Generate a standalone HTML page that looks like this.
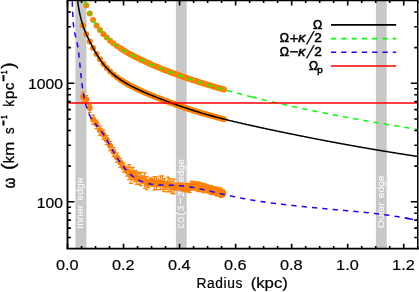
<!DOCTYPE html><html><head><meta charset="utf-8"><style>html,body{margin:0;padding:0;background:#fff;width:419px;height:292px;overflow:hidden}</style></head><body><svg width="419" height="292" viewBox="0 0 419 292" style="position:absolute;left:0;top:0;will-change:transform;font-family:'Liberation Sans',sans-serif">
<defs><clipPath id="c"><rect x="67.50" y="0" width="350.25" height="248.65"/></clipPath></defs>
<rect width="419" height="292" fill="#fff"/>
<rect x="75.4" y="0.4" width="11.05" height="248.25" fill="#c8c8c8"/>
<rect x="175.9" y="0.4" width="10.80" height="248.25" fill="#c8c8c8"/>
<rect x="375.9" y="0.4" width="10.80" height="248.25" fill="#c8c8c8"/>
<text transform="translate(83.23,228) rotate(-90)" font-size="8.8" fill="#fff" stroke="#fff" stroke-width="0.05"><tspan x="-0.7" textLength="23.9" lengthAdjust="spacingAndGlyphs">Inner</tspan><tspan> </tspan><tspan x="27.5" textLength="22.9" lengthAdjust="spacingAndGlyphs">edge</tspan></text>
<g transform="translate(183.60,228) rotate(-90)">
<text transform="translate(-0.14,-0.09) scale(0.679,0.960)" font-size="10.0" fill="#fff">C</text>
<text transform="translate(5.23,-0.09) scale(0.791,0.960)" font-size="10.0" fill="#fff">O</text>
<text transform="translate(12.55,0.13) scale(1.056,1.095)" font-size="10.0" fill="#fff">(</text>
<text transform="translate(17.35,-0.09) scale(0.907,0.960)" font-size="10.0" fill="#fff">3</text>
<text transform="translate(23.51,0.95) scale(1.194,1.262)" font-size="10.0" fill="#fff">−</text>
<text transform="translate(31.19,-0.10) scale(1.010,0.960)" font-size="10.0" fill="#fff">2</text>
<text transform="translate(37.94,0.13) scale(1.056,1.095)" font-size="10.0" fill="#fff">)</text>
<text font-size="8.8" fill="#fff" stroke="#fff" stroke-width="0.05" x="46.1" textLength="22.8" lengthAdjust="spacingAndGlyphs">edge</text>
</g>
<text transform="translate(383.60,228) rotate(-90)" font-size="8.8" fill="#fff" stroke="#fff" stroke-width="0.05"><tspan x="-0.3" textLength="26.0" lengthAdjust="spacingAndGlyphs">Outer</tspan><tspan> </tspan><tspan x="29.7" textLength="22.9" lengthAdjust="spacingAndGlyphs">edge</tspan></text>
<g clip-path="url(#c)">
<g fill="#ff8000"><circle cx="82.95" cy="25.48" r="3.0"/><circle cx="86.35" cy="34.22" r="3.0"/><circle cx="89.75" cy="41.43" r="3.0"/><circle cx="93.15" cy="48.04" r="3.0"/><circle cx="96.55" cy="54.04" r="3.0"/><circle cx="99.95" cy="59.36" r="3.0"/><circle cx="103.35" cy="64.02" r="3.0"/><circle cx="106.75" cy="68.06" r="3.0"/><circle cx="110.15" cy="71.54" r="3.0"/><circle cx="113.55" cy="74.57" r="3.0"/><circle cx="116.95" cy="77.25" r="3.0"/><circle cx="120.35" cy="79.66" r="3.0"/><circle cx="122.17" cy="80.85" r="3.0"/><circle cx="123.99" cy="81.99" r="3.0"/><circle cx="125.81" cy="83.08" r="3.0"/><circle cx="127.63" cy="84.13" r="3.0"/><circle cx="129.45" cy="85.14" r="3.0"/><circle cx="131.27" cy="86.11" r="3.0"/><circle cx="133.09" cy="87.05" r="3.0"/><circle cx="134.91" cy="87.96" r="3.0"/><circle cx="136.73" cy="88.84" r="3.0"/><circle cx="138.55" cy="89.71" r="3.0"/><circle cx="140.37" cy="90.55" r="3.0"/><circle cx="142.19" cy="91.37" r="3.0"/><circle cx="144.01" cy="92.17" r="3.0"/><circle cx="145.83" cy="92.96" r="3.0"/><circle cx="147.65" cy="93.73" r="3.0"/><circle cx="149.47" cy="94.49" r="3.0"/><circle cx="151.29" cy="95.24" r="3.0"/><circle cx="153.11" cy="95.98" r="3.0"/><circle cx="154.93" cy="96.70" r="3.0"/><circle cx="156.75" cy="97.42" r="3.0"/><circle cx="158.57" cy="98.13" r="3.0"/><circle cx="160.39" cy="98.83" r="3.0"/><circle cx="162.21" cy="99.53" r="3.0"/><circle cx="164.03" cy="100.21" r="3.0"/><circle cx="165.85" cy="100.90" r="3.0"/><circle cx="167.67" cy="101.57" r="3.0"/><circle cx="169.49" cy="102.24" r="3.0"/><circle cx="171.31" cy="102.91" r="3.0"/><circle cx="173.13" cy="103.57" r="3.0"/><circle cx="174.95" cy="104.23" r="3.0"/><circle cx="176.77" cy="104.88" r="3.0"/><circle cx="178.59" cy="105.52" r="3.0"/><circle cx="180.41" cy="106.16" r="3.0"/><circle cx="182.23" cy="106.78" r="3.0"/><circle cx="184.05" cy="107.41" r="3.0"/><circle cx="185.87" cy="108.02" r="3.0"/><circle cx="187.69" cy="108.63" r="3.0"/><circle cx="189.51" cy="109.23" r="3.0"/><circle cx="191.33" cy="109.82" r="3.0"/><circle cx="193.15" cy="110.41" r="3.0"/><circle cx="194.97" cy="110.99" r="3.0"/><circle cx="196.79" cy="111.56" r="3.0"/><circle cx="198.61" cy="112.12" r="3.0"/><circle cx="200.43" cy="112.67" r="3.0"/><circle cx="202.25" cy="113.21" r="3.0"/><circle cx="204.07" cy="113.75" r="3.0"/><circle cx="205.89" cy="114.28" r="3.0"/><circle cx="207.71" cy="114.80" r="3.0"/><circle cx="209.53" cy="115.31" r="3.0"/><circle cx="211.35" cy="115.81" r="3.0"/><circle cx="213.17" cy="116.31" r="3.0"/><circle cx="214.99" cy="116.80" r="3.0"/><circle cx="216.81" cy="117.28" r="3.0"/><circle cx="218.63" cy="117.76" r="3.0"/><circle cx="220.45" cy="118.23" r="3.0"/><circle cx="222.27" cy="118.69" r="3.0"/><circle cx="224.09" cy="119.15" r="3.0"/><circle cx="86.35" cy="5.32" r="3.0"/><circle cx="89.75" cy="13.39" r="3.0"/><circle cx="93.15" cy="19.93" r="3.0"/><circle cx="96.55" cy="25.39" r="3.0"/><circle cx="99.95" cy="30.03" r="3.0"/><circle cx="103.35" cy="34.04" r="3.0"/><circle cx="106.75" cy="37.55" r="3.0"/><circle cx="110.15" cy="40.66" r="3.0"/><circle cx="113.55" cy="43.45" r="3.0"/><circle cx="116.95" cy="45.98" r="3.0"/><circle cx="120.35" cy="48.30" r="3.0"/><circle cx="122.17" cy="49.48" r="3.0"/><circle cx="123.99" cy="50.60" r="3.0"/><circle cx="125.81" cy="51.70" r="3.0"/><circle cx="127.63" cy="52.75" r="3.0"/><circle cx="129.45" cy="53.78" r="3.0"/><circle cx="131.27" cy="54.77" r="3.0"/><circle cx="133.09" cy="55.74" r="3.0"/><circle cx="134.91" cy="56.68" r="3.0"/><circle cx="136.73" cy="57.61" r="3.0"/><circle cx="138.55" cy="58.51" r="3.0"/><circle cx="140.37" cy="59.40" r="3.0"/><circle cx="142.19" cy="60.26" r="3.0"/><circle cx="144.01" cy="61.11" r="3.0"/><circle cx="145.83" cy="61.95" r="3.0"/><circle cx="147.65" cy="62.77" r="3.0"/><circle cx="149.47" cy="63.58" r="3.0"/><circle cx="151.29" cy="64.38" r="3.0"/><circle cx="153.11" cy="65.17" r="3.0"/><circle cx="154.93" cy="65.95" r="3.0"/><circle cx="156.75" cy="66.71" r="3.0"/><circle cx="158.57" cy="67.47" r="3.0"/><circle cx="160.39" cy="68.21" r="3.0"/><circle cx="162.21" cy="68.94" r="3.0"/><circle cx="164.03" cy="69.67" r="3.0"/><circle cx="165.85" cy="70.38" r="3.0"/><circle cx="167.67" cy="71.09" r="3.0"/><circle cx="169.49" cy="71.79" r="3.0"/><circle cx="171.31" cy="72.48" r="3.0"/><circle cx="173.13" cy="73.16" r="3.0"/><circle cx="174.95" cy="73.83" r="3.0"/><circle cx="176.77" cy="74.49" r="3.0"/><circle cx="178.59" cy="75.15" r="3.0"/><circle cx="180.41" cy="75.80" r="3.0"/><circle cx="182.23" cy="76.44" r="3.0"/><circle cx="184.05" cy="77.08" r="3.0"/><circle cx="185.87" cy="77.71" r="3.0"/><circle cx="187.69" cy="78.33" r="3.0"/><circle cx="189.51" cy="78.94" r="3.0"/><circle cx="191.33" cy="79.55" r="3.0"/><circle cx="193.15" cy="80.16" r="3.0"/><circle cx="194.97" cy="80.75" r="3.0"/><circle cx="196.79" cy="81.34" r="3.0"/><circle cx="198.61" cy="81.93" r="3.0"/><circle cx="200.43" cy="82.51" r="3.0"/><circle cx="202.25" cy="83.08" r="3.0"/><circle cx="204.07" cy="83.65" r="3.0"/><circle cx="205.89" cy="84.21" r="3.0"/><circle cx="207.71" cy="84.77" r="3.0"/><circle cx="209.53" cy="85.32" r="3.0"/><circle cx="211.35" cy="85.87" r="3.0"/><circle cx="213.17" cy="86.41" r="3.0"/><circle cx="214.99" cy="86.95" r="3.0"/><circle cx="216.81" cy="87.48" r="3.0"/><circle cx="218.63" cy="88.01" r="3.0"/><circle cx="220.45" cy="88.54" r="3.0"/><circle cx="222.27" cy="89.06" r="3.0"/><circle cx="224.09" cy="89.57" r="3.0"/></g>
<g fill="#ff8000"><circle cx="82.95" cy="96.65" r="3.0"/><circle cx="86.35" cy="99.50" r="3.0"/><circle cx="89.75" cy="108.10" r="3.0"/><circle cx="93.15" cy="119.40" r="3.0"/><circle cx="96.55" cy="123.90" r="3.0"/><circle cx="99.95" cy="130.20" r="3.0"/><circle cx="103.35" cy="134.40" r="3.0"/><circle cx="106.75" cy="139.81" r="3.0"/><circle cx="110.15" cy="145.82" r="3.0"/><circle cx="113.55" cy="151.77" r="3.0"/><circle cx="116.95" cy="157.41" r="3.0"/><circle cx="120.35" cy="162.57" r="3.0"/><circle cx="123.75" cy="167.16" r="3.0"/><circle cx="127.15" cy="171.14" r="3.0"/><circle cx="129.10" cy="172.18" r="3.0"/><circle cx="131.05" cy="175.40" r="3.0"/><circle cx="133.00" cy="173.79" r="3.0"/><circle cx="134.95" cy="176.24" r="3.0"/><circle cx="136.90" cy="178.19" r="3.0"/><circle cx="138.85" cy="178.90" r="3.0"/><circle cx="140.80" cy="178.98" r="3.0"/><circle cx="142.75" cy="179.39" r="3.0"/><circle cx="144.70" cy="180.58" r="3.0"/><circle cx="146.65" cy="183.19" r="3.0"/><circle cx="148.60" cy="183.57" r="3.0"/><circle cx="150.55" cy="181.38" r="3.0"/><circle cx="152.50" cy="182.56" r="3.0"/><circle cx="154.45" cy="183.15" r="3.0"/><circle cx="156.40" cy="183.30" r="3.0"/><circle cx="158.35" cy="182.89" r="3.0"/><circle cx="160.30" cy="182.79" r="3.0"/><circle cx="162.25" cy="182.76" r="3.0"/><circle cx="164.20" cy="185.09" r="3.0"/><circle cx="166.15" cy="185.36" r="3.0"/><circle cx="168.10" cy="184.56" r="3.0"/><circle cx="170.05" cy="185.23" r="3.0"/><circle cx="172.00" cy="187.25" r="3.0"/><circle cx="173.95" cy="186.58" r="3.0"/><circle cx="175.90" cy="186.77" r="3.0"/><circle cx="177.85" cy="186.29" r="3.0"/><circle cx="179.80" cy="186.35" r="3.0"/><circle cx="181.75" cy="187.34" r="3.0"/><circle cx="183.70" cy="187.28" r="3.0"/><circle cx="185.65" cy="187.64" r="3.0"/><circle cx="187.60" cy="187.90" r="3.0"/><circle cx="189.55" cy="187.85" r="3.0"/><circle cx="191.50" cy="185.47" r="3.0"/><circle cx="193.45" cy="185.81" r="3.7"/><circle cx="195.40" cy="186.19" r="3.7"/><circle cx="197.35" cy="186.58" r="3.7"/><circle cx="199.30" cy="186.99" r="3.7"/><circle cx="201.25" cy="187.41" r="3.7"/><circle cx="203.20" cy="187.85" r="3.7"/><circle cx="205.15" cy="188.33" r="3.7"/><circle cx="207.10" cy="188.86" r="3.7"/><circle cx="209.05" cy="189.39" r="3.7"/><circle cx="211.00" cy="189.92" r="3.7"/><circle cx="212.95" cy="190.46" r="3.7"/><circle cx="214.90" cy="191.00" r="3.7"/><circle cx="216.85" cy="191.54" r="3.7"/><circle cx="218.80" cy="192.07" r="3.7"/><circle cx="220.75" cy="192.61" r="3.7"/><circle cx="222.70" cy="193.14" r="3.7"/></g>
<path d="M82.95,92.20V102.40M80.95,92.20h4M80.95,102.40h4M86.35,95.60V104.20M84.35,95.60h4M84.35,104.20h4M89.75,104.60V112.50M87.75,104.60h4M87.75,112.50h4M93.15,115.20V124.30M91.15,115.20h4M91.15,124.30h4M96.55,120.00V128.70M94.55,120.00h4M94.55,128.70h4M99.95,125.80V135.40M97.95,125.80h4M97.95,135.40h4M103.35,130.20V139.40M101.35,130.20h4M101.35,139.40h4M106.75,135.51V144.71M104.75,135.51h4M104.75,144.71h4M110.15,141.52V150.72M108.15,141.52h4M108.15,150.72h4M113.55,147.47V156.67M111.55,147.47h4M111.55,156.67h4M116.95,153.11V162.31M114.95,153.11h4M114.95,162.31h4M120.35,158.27V167.47M118.35,158.27h4M118.35,167.47h4M123.75,162.86V172.06M121.75,162.86h4M121.75,172.06h4M127.15,166.84V176.04M125.15,166.84h4M125.15,176.04h4M129.10,164.70V179.66M127.10,164.70h4M127.10,179.66h4M131.05,167.40V183.41M129.05,167.40h4M129.05,183.41h4M133.00,167.71V179.87M131.00,167.71h4M131.00,179.87h4M134.95,170.66V181.83M132.95,170.66h4M132.95,181.83h4M136.90,171.91V184.47M134.90,171.91h4M134.90,184.47h4M138.85,173.34V184.47M136.85,173.34h4M136.85,184.47h4M140.80,172.31V185.64M138.80,172.31h4M138.80,185.64h4M142.75,175.73V183.05M140.75,175.73h4M140.75,183.05h4M144.70,172.89V188.26M142.70,172.89h4M142.70,188.26h4M146.65,176.60V189.77M144.65,176.60h4M144.65,189.77h4M148.60,179.56V187.58M146.60,179.56h4M146.60,187.58h4M150.55,177.81V184.95M148.55,177.81h4M148.55,184.95h4M152.50,178.72V186.39M150.50,178.72h4M150.50,186.39h4M154.45,176.51V189.78M152.45,176.51h4M152.45,189.78h4M156.40,176.98V189.62M154.40,176.98h4M154.40,189.62h4M158.35,179.01V186.77M156.35,179.01h4M156.35,186.77h4M160.30,176.02V189.56M158.30,176.02h4M158.30,189.56h4M162.25,175.83V189.70M160.25,175.83h4M160.25,189.70h4M164.20,178.57V191.60M162.20,178.57h4M162.20,191.60h4M166.15,181.32V189.39M164.15,181.32h4M164.15,189.39h4M168.10,177.19V191.93M166.10,177.19h4M166.10,191.93h4M170.05,178.82V191.64M168.05,178.82h4M168.05,191.64h4M172.00,181.07V193.43M170.00,181.07h4M170.00,193.43h4M173.95,179.14V194.01M171.95,179.14h4M171.95,194.01h4M175.90,183.06V190.49M173.90,183.06h4M173.90,190.49h4M177.85,183.19V189.39M175.85,183.19h4M175.85,189.39h4M179.80,183.21V189.49M177.80,183.21h4M177.80,189.49h4M181.75,184.07V190.60M179.75,184.07h4M179.75,190.60h4M183.70,183.53V191.04M181.70,183.53h4M181.70,191.04h4M185.65,183.34V191.94M183.65,183.34h4M183.65,191.94h4M187.60,184.23V191.57M185.60,184.23h4M185.60,191.57h4M189.55,183.39V192.30M187.55,183.39h4M187.55,192.30h4M191.50,181.04V189.89M189.50,181.04h4M189.50,189.89h4M193.45,181.50V190.13M191.45,181.50h4M191.45,190.13h4M195.40,182.34V190.04M193.40,182.34h4M193.40,190.04h4M197.35,181.96V191.20M195.35,181.96h4M195.35,191.20h4M199.30,182.28V191.69M197.30,182.28h4M197.30,191.69h4M201.25,183.69V191.13M199.25,183.69h4M199.25,191.13h4M203.20,183.04V192.65M201.20,183.04h4M201.20,192.65h4M205.15,184.10V192.56M203.15,184.10h4M203.15,192.56h4M207.10,184.97V192.74M205.10,184.97h4M205.10,192.74h4M209.05,185.69V193.08M207.05,185.69h4M207.05,193.08h4M211.00,185.49V194.36M209.00,185.49h4M209.00,194.36h4M212.95,186.32V194.60M210.95,186.32h4M210.95,194.60h4M214.90,187.13V194.87M212.90,187.13h4M212.90,194.87h4M216.85,187.09V195.98M214.85,187.09h4M214.85,195.98h4M218.80,188.12V196.03M216.80,188.12h4M216.80,196.03h4M220.75,187.77V197.45M218.75,187.77h4M218.75,197.45h4M222.70,189.45V196.83M220.70,189.45h4M220.70,196.83h4" stroke="#ff8000" stroke-width="1.2" fill="none"/>
<path d="M76.00,-13.65 L76.86,-5.15 L77.71,1.68 L78.57,7.29 L79.43,11.98 L80.28,15.97 L81.14,19.43 L82.00,22.47 L82.85,25.19 L83.71,27.66 L84.57,29.93 L85.42,32.05 L86.28,34.05 L87.13,35.97 L87.99,37.81 L88.85,39.59 L89.70,41.34 L90.56,43.06 L91.42,44.74 L92.27,46.39 L93.13,48.01 L93.99,49.58 L94.84,51.11 L95.70,52.60 L96.56,54.05 L97.41,55.46 L98.27,56.82 L99.13,58.13 L99.98,59.41 L100.84,60.64 L101.70,61.84 L102.55,62.99 L103.41,64.10 L104.27,65.17 L105.12,66.20 L105.98,67.20 L106.83,68.16 L107.69,69.08 L108.55,69.97 L109.40,70.82 L110.26,71.65 L111.12,72.44 L111.97,73.22 L112.83,73.96 L113.69,74.68 L114.54,75.39 L115.40,76.07 L116.26,76.73 L117.11,77.37 L117.97,78.00 L118.83,78.61 L119.68,79.20 L120.54,79.78 L121.40,80.35 L122.25,80.90 L123.11,81.45 L123.96,81.98 L124.82,82.50 L125.68,83.00 L126.53,83.50 L127.39,83.99 L128.25,84.47 L129.10,84.95 L129.96,85.41 L130.82,85.87 L131.67,86.32 L132.53,86.76 L133.39,87.20 L134.24,87.63 L135.10,88.05 L135.96,88.47 L136.81,88.88 L137.67,89.29 L138.53,89.69 L139.38,90.09 L140.24,90.49 L141.10,90.88 L141.95,91.26 L142.81,91.64 L143.66,92.02 L144.52,92.39 L145.38,92.76 L146.23,93.13 L147.09,93.50 L147.95,93.86 L148.80,94.22 L149.66,94.57 L150.52,94.92 L151.37,95.27 L152.23,95.62 L153.09,95.97 L153.94,96.31 L154.80,96.65 L155.66,96.99 L156.51,97.33 L157.37,97.66 L158.23,98.00 L159.08,98.33 L159.94,98.66 L160.80,98.99 L161.65,99.31 L162.51,99.64 L163.36,99.96 L164.22,100.29 L165.08,100.61 L165.93,100.93 L166.79,101.25 L167.65,101.56 L168.50,101.88 L169.36,102.20 L170.22,102.51 L171.07,102.82 L171.93,103.14 L172.79,103.45 L173.64,103.76 L174.50,104.06 L175.36,104.37 L176.21,104.68 L177.07,104.98 L177.93,105.28 L178.78,105.59 L179.64,105.89 L180.49,106.18 L181.35,106.48 L182.21,106.78 L183.06,107.07 L183.92,107.36 L184.78,107.65 L185.63,107.94 L186.49,108.23 L187.35,108.52 L188.20,108.80 L189.06,109.08 L189.92,109.36 L190.77,109.64 L191.63,109.92 L192.49,110.20 L193.34,110.47 L194.20,110.74 L195.06,111.01 L195.91,111.28 L196.77,111.55 L197.63,111.81 L198.48,112.08 L199.34,112.34 L200.19,112.60 L201.05,112.86 L201.91,113.11 L202.76,113.37 L203.62,113.62 L204.48,113.87 L205.33,114.12 L206.19,114.36 L207.05,114.61 L207.90,114.85 L208.76,115.09 L209.62,115.33 L210.47,115.57 L211.33,115.81 L212.19,116.04 L213.04,116.28 L213.90,116.51 L214.76,116.74 L215.61,116.96 L216.47,117.19 L217.33,117.42 L218.18,117.64 L219.04,117.86 L219.89,118.09 L220.75,118.31 L221.61,118.53 L222.46,118.74 L223.32,118.96 L224.18,119.18 L225.03,119.39 L225.89,119.60 L226.75,119.81 L227.60,120.03 L228.46,120.24 L229.32,120.45 L230.17,120.65 L231.03,120.86 L231.89,121.07 L232.74,121.27 L233.60,121.48 L234.46,121.68 L235.31,121.88 L236.17,122.08 L237.03,122.29 L237.88,122.49 L238.74,122.69 L239.59,122.88 L240.45,123.08 L241.31,123.28 L242.16,123.48 L243.02,123.67 L243.88,123.87 L244.73,124.06 L245.59,124.26 L246.45,124.45 L247.30,124.64 L248.16,124.84 L249.02,125.03 L249.87,125.22 L250.73,125.41 L251.59,125.60 L252.44,125.79 L253.30,125.98 L254.16,126.17 L255.01,126.35 L255.87,126.54 L256.72,126.73 L257.58,126.92 L258.44,127.10 L259.29,127.29 L260.15,127.47 L261.01,127.66 L261.86,127.84 L262.72,128.03 L263.58,128.21 L264.43,128.39 L265.29,128.58 L266.15,128.76 L267.00,128.94 L267.86,129.12 L268.72,129.31 L269.57,129.49 L270.43,129.67 L271.29,129.85 L272.14,130.03 L273.00,130.21 L273.86,130.39 L274.71,130.57 L275.57,130.75 L276.42,130.93 L277.28,131.11 L278.14,131.29 L278.99,131.47 L279.85,131.64 L280.71,131.82 L281.56,132.00 L282.42,132.18 L283.28,132.35 L284.13,132.53 L284.99,132.71 L285.85,132.88 L286.70,133.06 L287.56,133.24 L288.42,133.41 L289.27,133.59 L290.13,133.76 L290.99,133.94 L291.84,134.11 L292.70,134.28 L293.56,134.46 L294.41,134.63 L295.27,134.81 L296.12,134.98 L296.98,135.15 L297.84,135.32 L298.69,135.50 L299.55,135.67 L300.41,135.84 L301.26,136.01 L302.12,136.18 L302.98,136.35 L303.83,136.52 L304.69,136.69 L305.55,136.86 L306.40,137.03 L307.26,137.20 L308.12,137.37 L308.97,137.54 L309.83,137.71 L310.69,137.88 L311.54,138.04 L312.40,138.21 L313.26,138.38 L314.11,138.54 L314.97,138.71 L315.82,138.88 L316.68,139.04 L317.54,139.21 L318.39,139.37 L319.25,139.54 L320.11,139.70 L320.96,139.87 L321.82,140.03 L322.68,140.20 L323.53,140.36 L324.39,140.52 L325.25,140.69 L326.10,140.85 L326.96,141.01 L327.82,141.17 L328.67,141.33 L329.53,141.49 L330.39,141.66 L331.24,141.82 L332.10,141.98 L332.95,142.14 L333.81,142.30 L334.67,142.46 L335.52,142.61 L336.38,142.77 L337.24,142.93 L338.09,143.09 L338.95,143.25 L339.81,143.40 L340.66,143.56 L341.52,143.72 L342.38,143.88 L343.23,144.03 L344.09,144.19 L344.95,144.34 L345.80,144.50 L346.66,144.65 L347.52,144.81 L348.37,144.96 L349.23,145.12 L350.09,145.27 L350.94,145.42 L351.80,145.58 L352.65,145.73 L353.51,145.88 L354.37,146.04 L355.22,146.19 L356.08,146.34 L356.94,146.49 L357.79,146.64 L358.65,146.79 L359.51,146.94 L360.36,147.09 L361.22,147.24 L362.08,147.39 L362.93,147.54 L363.79,147.69 L364.65,147.84 L365.50,147.99 L366.36,148.13 L367.22,148.28 L368.07,148.43 L368.93,148.58 L369.79,148.72 L370.64,148.87 L371.50,149.02 L372.35,149.16 L373.21,149.31 L374.07,149.45 L374.92,149.60 L375.78,149.74 L376.64,149.89 L377.49,150.03 L378.35,150.17 L379.21,150.32 L380.06,150.46 L380.92,150.60 L381.78,150.75 L382.63,150.89 L383.49,151.03 L384.35,151.17 L385.20,151.31 L386.06,151.46 L386.92,151.60 L387.77,151.74 L388.63,151.88 L389.48,152.02 L390.34,152.16 L391.20,152.30 L392.05,152.44 L392.91,152.57 L393.77,152.71 L394.62,152.85 L395.48,152.99 L396.34,153.13 L397.19,153.26 L398.05,153.40 L398.91,153.54 L399.76,153.68 L400.62,153.81 L401.48,153.95 L402.33,154.08 L403.19,154.22 L404.05,154.35 L404.90,154.49 L405.76,154.62 L406.62,154.76 L407.47,154.89 L408.33,155.03 L409.18,155.16 L410.04,155.29 L410.90,155.43 L411.75,155.56 L412.61,155.69 L413.47,155.82 L414.32,155.96 L415.18,156.09 L416.04,156.22 L416.89,156.35 L417.75,156.48" stroke="#000" stroke-width="1.5" fill="none"/>
<path d="M83.50,-3.13 L83.92,-1.76 L84.34,-0.43 L84.76,0.85 L85.19,2.09 L85.61,3.29 L86.03,4.46 L86.45,5.58 L86.87,6.68 L87.29,7.74 L87.72,8.78 L88.14,9.78 L88.56,10.76 L88.98,11.71 L89.40,12.64 L89.82,13.54 L90.24,14.42 L90.67,15.28 L91.09,16.12 L91.51,16.93 L91.93,17.73 L92.35,18.51 L92.77,19.27 L93.20,20.01 L93.62,20.74 L94.04,21.45 L94.46,22.15 L94.88,22.83 L95.30,23.49 L95.73,24.15 L96.15,24.79 L96.57,25.41 L96.99,26.03 L97.41,26.63 L97.83,27.22 L98.25,27.80 L98.68,28.37 L99.10,28.93 L99.52,29.48 L99.94,30.01 L100.36,30.54 L100.78,31.06 L101.21,31.57 L101.63,32.07 L102.05,32.57 L102.47,33.05 L102.89,33.53 L103.31,34.00 L103.73,34.46 L104.16,34.91 L104.58,35.36 L105.00,35.80 L105.42,36.23 L105.84,36.66 L106.26,37.08 L106.69,37.49 L107.11,37.90 L107.53,38.30 L107.95,38.69 L108.37,39.08 L108.79,39.47 L109.21,39.84 L109.64,40.22 L110.06,40.58 L110.48,40.95 L110.90,41.31 L111.32,41.66 L111.74,42.01 L112.17,42.35 L112.59,42.69 L113.01,43.03 L113.43,43.36 L113.85,43.69 L114.27,44.01 L114.69,44.33 L115.12,44.64 L115.54,44.96 L115.96,45.27 L116.38,45.57 L116.80,45.88 L117.22,46.17 L117.65,46.47 L118.07,46.76 L118.49,47.05 L118.91,47.34 L119.33,47.63 L119.75,47.91 L120.18,48.19 L120.60,48.46 L121.02,48.74 L121.44,49.01 L121.86,49.28 L122.28,49.55 L122.70,49.81 L123.13,50.07 L123.55,50.33 L123.97,50.59 L124.39,50.85 L124.81,51.10 L125.23,51.35 L125.66,51.60 L126.08,51.85 L126.50,52.10 L126.92,52.34 L127.34,52.59 L127.76,52.83 L128.18,53.07 L128.61,53.30 L129.03,53.54 L129.45,53.78 L129.87,54.01 L130.29,54.24 L130.71,54.47 L131.14,54.70 L131.56,54.93 L131.98,55.15 L132.40,55.38 L132.82,55.60 L133.24,55.82 L133.66,56.04 L134.09,56.26 L134.51,56.48 L134.93,56.70 L135.35,56.91 L135.77,57.13 L136.19,57.34 L136.62,57.55 L137.04,57.76 L137.46,57.97 L137.88,58.18 L138.30,58.39 L138.72,58.60 L139.15,58.80 L139.57,59.01 L139.99,59.21 L140.41,59.41 L140.83,59.62 L141.25,59.82 L141.67,60.02 L142.10,60.22 L142.52,60.42 L142.94,60.61 L143.36,60.81 L143.78,61.01 L144.20,61.20 L144.63,61.40 L145.05,61.59 L145.47,61.79 L145.89,61.98 L146.31,62.17 L146.73,62.36 L147.15,62.55 L147.58,62.74 L148.00,62.93 L148.42,63.12 L148.84,63.31 L149.26,63.49 L149.68,63.68 L150.11,63.86 L150.53,64.05 L150.95,64.23 L151.37,64.42 L151.79,64.60 L152.21,64.78 L152.63,64.97 L153.06,65.15 L153.48,65.33 L153.90,65.51 L154.32,65.69 L154.74,65.87 L155.16,66.04 L155.59,66.22 L156.01,66.40 L156.43,66.58 L156.85,66.75 L157.27,66.93 L157.69,67.10 L158.12,67.28 L158.54,67.45 L158.96,67.62 L159.38,67.80 L159.80,67.97 L160.22,68.14 L160.64,68.31 L161.07,68.48 L161.49,68.65 L161.91,68.82 L162.33,68.99 L162.75,69.16 L163.17,69.33 L163.60,69.50 L164.02,69.66 L164.44,69.83 L164.86,70.00 L165.28,70.16 L165.70,70.33 L166.12,70.49 L166.55,70.65 L166.97,70.82 L167.39,70.98 L167.81,71.14 L168.23,71.31 L168.65,71.47 L169.08,71.63 L169.50,71.79 L169.92,71.95 L170.34,72.11 L170.76,72.27 L171.18,72.43 L171.60,72.59 L172.03,72.74 L172.45,72.90 L172.87,73.06 L173.29,73.22 L173.71,73.37 L174.13,73.53 L174.56,73.68 L174.98,73.84 L175.40,73.99 L175.82,74.15 L176.24,74.30 L176.66,74.46 L177.08,74.61 L177.51,74.76 L177.93,74.91 L178.35,75.06 L178.77,75.22 L179.19,75.37 L179.61,75.52 L180.04,75.67 L180.46,75.82 L180.88,75.97 L181.30,76.12 L181.72,76.26 L182.14,76.41 L182.57,76.56 L182.99,76.71 L183.41,76.86 L183.83,77.00 L184.25,77.15 L184.67,77.29 L185.09,77.44 L185.52,77.59 L185.94,77.73 L186.36,77.88 L186.78,78.02 L187.20,78.16 L187.62,78.31 L188.05,78.45 L188.47,78.59 L188.89,78.74 L189.31,78.88 L189.73,79.02 L190.15,79.16 L190.57,79.30 L191.00,79.44 L191.42,79.58 L191.84,79.72 L192.26,79.86 L192.68,80.00 L193.10,80.14 L193.53,80.28 L193.95,80.42 L194.37,80.56 L194.79,80.69 L195.21,80.83 L195.63,80.97 L196.05,81.11 L196.48,81.24 L196.90,81.38 L197.32,81.51 L197.74,81.65 L198.16,81.79 L198.58,81.92 L199.01,82.05 L199.43,82.19 L199.85,82.32 L200.27,82.46 L200.69,82.59 L201.11,82.72 L201.54,82.86 L201.96,82.99 L202.38,83.12 L202.80,83.25 L203.22,83.39 L203.64,83.52 L204.06,83.65 L204.49,83.78 L204.91,83.91 L205.33,84.04 L205.75,84.17 L206.17,84.30 L206.59,84.43 L207.02,84.56 L207.44,84.69 L207.86,84.82 L208.28,84.94 L208.70,85.07 L209.12,85.20 L209.54,85.33 L209.97,85.45 L210.39,85.58 L210.81,85.71 L211.23,85.83 L211.65,85.96 L212.07,86.09 L212.50,86.21 L212.92,86.34 L213.34,86.46 L213.76,86.59 L214.18,86.71 L214.60,86.84 L215.02,86.96 L215.45,87.09 L215.87,87.21 L216.29,87.33 L216.71,87.46 L217.13,87.58 L217.55,87.70 L217.98,87.82 L218.40,87.95 L218.82,88.07 L219.24,88.19 L219.66,88.31 L220.08,88.43 L220.51,88.55 L220.93,88.67 L221.35,88.79 L221.77,88.92 L222.19,89.04 L222.61,89.16 L223.03,89.27 L223.46,89.39 L223.88,89.51 L224.30,89.63 L224.72,89.75 L225.14,89.87 L225.56,89.99 L225.99,90.11 L226.41,90.22 L226.83,90.34 L227.25,90.46 L227.67,90.58 L228.09,90.69 L228.51,90.81 L228.94,90.93 L229.36,91.04 L229.78,91.16 L230.20,91.27 L230.62,91.39 L231.04,91.50 L231.47,91.62 L231.89,91.73 L232.31,91.85 L232.73,91.96 L233.15,92.08 L233.57,92.19 L233.99,92.31 L234.42,92.42 L234.84,92.53 L235.26,92.65 L235.68,92.76 L236.10,92.87 L236.52,92.99 L236.95,93.10 L237.37,93.21 L237.79,93.32 L238.21,93.43 L238.63,93.55 L239.05,93.66 L239.47,93.77 L239.90,93.88 L240.32,93.99 L240.74,94.10 L241.16,94.21 L241.58,94.32 L242.00,94.43 L242.43,94.54 L242.85,94.65 L243.27,94.76 L243.69,94.87 L244.11,94.98 L244.53,95.09 L244.96,95.20 L245.38,95.31 L245.80,95.42 L246.22,95.52 L246.64,95.63 L247.06,95.74 L247.48,95.85 L247.91,95.96 L248.33,96.06 L248.75,96.17 L249.17,96.28 L249.59,96.38 L250.01,96.49 L250.44,96.60 L250.86,96.70 L251.28,96.81 L251.70,96.92" stroke="#00ff00" stroke-width="1.5" fill="none" stroke-dasharray="5.2 5.1" stroke-dashoffset="-4.79"/>
<path d="M251.70,96.92 L252.12,97.02 L252.53,97.12 L252.95,97.23 L253.36,97.33 L253.78,97.44 L254.20,97.54 L254.61,97.64 L255.03,97.75 L255.45,97.85 L255.86,97.95 L256.28,98.05 L256.69,98.16 L257.11,98.26 L257.53,98.36 L257.94,98.46 L258.36,98.57 L258.77,98.67 L259.19,98.77 L259.61,98.87 L260.02,98.97 L260.44,99.07 L260.86,99.17 L261.27,99.28 L261.69,99.38 L262.10,99.48 L262.52,99.58 L262.94,99.68 L263.35,99.78 L263.77,99.88 L264.18,99.98 L264.60,100.08 L265.02,100.18 L265.43,100.28 L265.85,100.37 L266.27,100.47 L266.68,100.57 L267.10,100.67 L267.51,100.77 L267.93,100.87 L268.35,100.97 L268.76,101.06 L269.18,101.16 L269.60,101.26 L270.01,101.36 L270.43,101.46 L270.84,101.55 L271.26,101.65 L271.68,101.75 L272.09,101.84 L272.51,101.94 L272.92,102.04 L273.34,102.13 L273.76,102.23 L274.17,102.33 L274.59,102.42 L275.01,102.52 L275.42,102.61 L275.84,102.71 L276.25,102.81 L276.67,102.90 L277.09,103.00 L277.50,103.09 L277.92,103.19 L278.33,103.28 L278.75,103.38 L279.17,103.47 L279.58,103.57 L280.00,103.66 L280.42,103.75 L280.83,103.85 L281.25,103.94 L281.66,104.04 L282.08,104.13 L282.50,104.22 L282.91,104.32 L283.33,104.41 L283.74,104.50 L284.16,104.60 L284.58,104.69 L284.99,104.78 L285.41,104.87 L285.83,104.97 L286.24,105.06 L286.66,105.15 L287.07,105.24 L287.49,105.33 L287.91,105.43 L288.32,105.52 L288.74,105.61 L289.15,105.70 L289.57,105.79 L289.99,105.88 L290.40,105.98 L290.82,106.07 L291.24,106.16 L291.65,106.25 L292.07,106.34 L292.48,106.43 L292.90,106.52 L293.32,106.61 L293.73,106.70 L294.15,106.79 L294.57,106.88 L294.98,106.97 L295.40,107.06 L295.81,107.15 L296.23,107.24 L296.65,107.33 L297.06,107.42 L297.48,107.51 L297.89,107.59 L298.31,107.68 L298.73,107.77 L299.14,107.86 L299.56,107.95 L299.98,108.04 L300.39,108.13 L300.81,108.21 L301.22,108.30 L301.64,108.39 L302.06,108.48 L302.47,108.56 L302.89,108.65 L303.30,108.74 L303.72,108.83 L304.14,108.91 L304.55,109.00 L304.97,109.09 L305.39,109.18 L305.80,109.26 L306.22,109.35 L306.63,109.44 L307.05,109.52 L307.47,109.61 L307.88,109.69 L308.30,109.78 L308.71,109.87 L309.13,109.95 L309.55,110.04 L309.96,110.12 L310.38,110.21 L310.80,110.29 L311.21,110.38 L311.63,110.47 L312.04,110.55 L312.46,110.64 L312.88,110.72 L313.29,110.81 L313.71,110.89 L314.12,110.97 L314.54,111.06 L314.96,111.14 L315.37,111.23 L315.79,111.31 L316.21,111.40 L316.62,111.48 L317.04,111.56 L317.45,111.65 L317.87,111.73 L318.29,111.82 L318.70,111.90 L319.12,111.98 L319.53,112.07 L319.95,112.15 L320.37,112.23 L320.78,112.31 L321.20,112.40 L321.62,112.48 L322.03,112.56 L322.45,112.65 L322.86,112.73 L323.28,112.81 L323.70,112.89 L324.11,112.97 L324.53,113.06 L324.95,113.14 L325.36,113.22 L325.78,113.30 L326.19,113.38 L326.61,113.47 L327.03,113.55 L327.44,113.63 L327.86,113.71 L328.27,113.79 L328.69,113.87 L329.11,113.95 L329.52,114.03 L329.94,114.12 L330.36,114.20 L330.77,114.28 L331.19,114.36 L331.60,114.44 L332.02,114.52 L332.44,114.60 L332.85,114.68 L333.27,114.76 L333.68,114.84 L334.10,114.92 L334.52,115.00 L334.93,115.08 L335.35,115.16 L335.77,115.24 L336.18,115.32 L336.60,115.40 L337.01,115.48 L337.43,115.55 L337.85,115.63 L338.26,115.71 L338.68,115.79 L339.09,115.87 L339.51,115.95 L339.93,116.03 L340.34,116.11 L340.76,116.18 L341.18,116.26 L341.59,116.34 L342.01,116.42 L342.42,116.50 L342.84,116.58 L343.26,116.65 L343.67,116.73 L344.09,116.81 L344.50,116.89 L344.92,116.96 L345.34,117.04 L345.75,117.12 L346.17,117.20 L346.59,117.27 L347.00,117.35 L347.42,117.43 L347.83,117.51 L348.25,117.58 L348.67,117.66 L349.08,117.74 L349.50,117.81 L349.92,117.89 L350.33,117.97 L350.75,118.04 L351.16,118.12 L351.58,118.19 L352.00,118.27 L352.41,118.35 L352.83,118.42 L353.24,118.50 L353.66,118.57 L354.08,118.65 L354.49,118.73 L354.91,118.80 L355.33,118.88 L355.74,118.95 L356.16,119.03 L356.57,119.10 L356.99,119.18 L357.41,119.25 L357.82,119.33 L358.24,119.40 L358.65,119.48 L359.07,119.55 L359.49,119.63 L359.90,119.70 L360.32,119.78 L360.74,119.85 L361.15,119.93 L361.57,120.00 L361.98,120.07 L362.40,120.15 L362.82,120.22 L363.23,120.30 L363.65,120.37 L364.06,120.44 L364.48,120.52 L364.90,120.59 L365.31,120.67 L365.73,120.74 L366.15,120.81 L366.56,120.89 L366.98,120.96 L367.39,121.03 L367.81,121.11 L368.23,121.18 L368.64,121.25 L369.06,121.33 L369.47,121.40 L369.89,121.47 L370.31,121.54 L370.72,121.62 L371.14,121.69 L371.56,121.76 L371.97,121.83 L372.39,121.91 L372.80,121.98 L373.22,122.05 L373.64,122.12 L374.05,122.20 L374.47,122.27 L374.88,122.34 L375.30,122.41 L375.72,122.48 L376.13,122.55 L376.55,122.63 L376.97,122.70 L377.38,122.77 L377.80,122.84 L378.21,122.91 L378.63,122.98 L379.05,123.05 L379.46,123.13 L379.88,123.20 L380.30,123.27 L380.71,123.34 L381.13,123.41 L381.54,123.48 L381.96,123.55 L382.38,123.62 L382.79,123.69 L383.21,123.76 L383.62,123.83 L384.04,123.90 L384.46,123.97 L384.87,124.04 L385.29,124.11 L385.71,124.18 L386.12,124.25 L386.54,124.32 L386.95,124.39 L387.37,124.46 L387.79,124.53 L388.20,124.60 L388.62,124.67 L389.03,124.74 L389.45,124.81 L389.87,124.88 L390.28,124.95 L390.70,125.02 L391.12,125.09 L391.53,125.16 L391.95,125.23 L392.36,125.30 L392.78,125.37 L393.20,125.44 L393.61,125.50 L394.03,125.57 L394.44,125.64 L394.86,125.71 L395.28,125.78 L395.69,125.85 L396.11,125.92 L396.53,125.98 L396.94,126.05 L397.36,126.12 L397.77,126.19 L398.19,126.26 L398.61,126.32 L399.02,126.39 L399.44,126.46 L399.85,126.53 L400.27,126.60 L400.69,126.66 L401.10,126.73 L401.52,126.80 L401.94,126.87 L402.35,126.93 L402.77,127.00 L403.18,127.07 L403.60,127.14 L404.02,127.20 L404.43,127.27 L404.85,127.34 L405.27,127.41 L405.68,127.47 L406.10,127.54 L406.51,127.61 L406.93,127.67 L407.35,127.74 L407.76,127.81 L408.18,127.87 L408.59,127.94 L409.01,128.01 L409.43,128.07 L409.84,128.14 L410.26,128.21 L410.68,128.27 L411.09,128.34 L411.51,128.40 L411.92,128.47 L412.34,128.54 L412.76,128.60 L413.17,128.67 L413.59,128.73 L414.00,128.80 L414.42,128.87 L414.84,128.93 L415.25,129.00 L415.67,129.06 L416.09,129.13 L416.50,129.19 L416.92,129.26 L417.33,129.32 L417.75,129.39" stroke="#00ff00" stroke-width="1.5" fill="none" stroke-dasharray="5.25 5.13" stroke-dashoffset="-0.00"/>
<path d="M71.50,-32.09 L71.62,-24.82 L71.75,-18.32 L71.87,-12.52 L72.00,-7.33 L72.12,-2.69 L72.24,1.45 L72.37,5.16 L72.49,8.47 L72.62,11.44 L72.74,14.09 L72.87,16.46 L72.99,18.58 L73.11,20.48 L73.24,22.18 L73.36,23.71 L73.49,25.07 L73.61,26.30 L73.73,27.40 L73.86,28.40 L73.98,29.30 L74.11,30.11 L74.23,30.86 L74.36,31.54 L74.48,32.17 L74.60,32.75 L74.73,33.29 L74.85,33.80 L74.98,34.29 L75.10,34.76 L75.22,35.21 L75.35,35.65 L75.47,36.09 L75.60,36.52 L75.72,36.96 L75.85,37.40 L75.97,37.85 L76.09,38.31 L76.22,38.79 L76.34,39.27 L76.47,39.78 L76.59,40.31 L76.71,40.85 L76.84,41.42 L76.96,42.01 L77.09,42.63 L77.21,43.27 L77.34,43.94 L77.46,44.64 L77.58,45.36 L77.71,46.11 L77.83,46.90 L77.96,47.71 L78.08,48.56 L78.20,49.43 L78.33,50.34 L78.45,51.28 L78.58,52.25 L78.70,53.26 L78.83,54.29 L78.95,55.36 L79.07,56.46 L79.20,57.60 L79.32,58.76 L79.45,59.96 L79.57,61.19 L79.69,62.44 L79.82,63.72 L79.94,65.00 L80.07,66.29 L80.19,67.58 L80.32,68.87 L80.44,70.16 L80.56,71.43 L80.69,72.69 L80.81,73.93 L80.94,75.14 L81.06,76.34 L81.18,77.50 L81.31,78.63 L81.43,79.73 L81.56,80.79 L81.68,81.83 L81.81,82.83 L81.93,83.80 L82.05,84.75 L82.18,85.67 L82.30,86.56 L82.43,87.43 L82.55,88.27 L82.67,89.09 L82.80,89.89 L82.92,90.67 L83.05,91.42 L83.17,92.16 L83.30,92.88 L83.42,93.57 L83.54,94.25 L83.67,94.92 L83.79,95.56 L83.92,96.19 L84.04,96.81 L84.16,97.41 L84.29,97.99 L84.41,98.57 L84.54,99.13 L84.66,99.67 L84.79,100.21 L84.91,100.73 L85.03,101.24 L85.16,101.75 L85.28,102.24 L85.41,102.72 L85.53,103.19 L85.65,103.65 L85.78,104.10 L85.90,104.55 L86.03,104.99 L86.15,105.42 L86.28,105.84 L86.40,106.25 L86.52,106.66 L86.65,107.06 L86.77,107.46 L86.90,107.85 L87.02,108.23 L87.14,108.61 L87.27,108.98 L87.39,109.35 L87.52,109.71 L87.64,110.07 L87.77,110.43 L87.89,110.78 L88.01,111.13 L88.14,111.47 L88.26,111.81 L88.39,112.15 L88.51,112.48 L88.63,112.80 L88.76,113.12 L88.88,113.44 L89.01,113.75 L89.13,114.05 L89.26,114.34 L89.38,114.62 L89.50,114.90 L89.63,115.18 L89.75,115.45 L89.88,115.71 L90.00,115.97" stroke="#2000ff" stroke-width="1.5" fill="none" stroke-dasharray="5.2 5.1" stroke-dashoffset="-2.74"/>
<path d="M90.00,115.97 L90.34,116.65 L90.68,117.29 L91.03,117.90 L91.37,118.48 L91.71,119.03 L92.05,119.56 L92.40,120.07 L92.74,120.56 L93.08,121.03 L93.42,121.49 L93.77,121.93 L94.11,122.37 L94.45,122.79 L94.79,123.21 L95.14,123.62 L95.48,124.02 L95.82,124.43 L96.16,124.83 L96.50,125.23 L96.85,125.63 L97.19,126.03 L97.53,126.43 L97.87,126.83 L98.22,127.24 L98.56,127.66 L98.90,128.07 L99.24,128.50 L99.59,128.92 L99.93,129.36 L100.27,129.80 L100.61,130.25 L100.96,130.71 L101.30,131.18 L101.64,131.65 L101.98,132.14 L102.32,132.63 L102.67,133.14 L103.01,133.65 L103.35,134.18 L103.69,134.71 L104.04,135.25 L104.38,135.81 L104.72,136.37 L105.06,136.93 L105.41,137.51 L105.75,138.09 L106.09,138.67 L106.43,139.26 L106.78,139.86 L107.12,140.45 L107.46,141.05 L107.80,141.66 L108.14,142.26 L108.49,142.87 L108.83,143.47 L109.17,144.08 L109.51,144.69 L109.86,145.30 L110.20,145.91 L110.54,146.51 L110.88,147.12 L111.23,147.72 L111.57,148.33 L111.91,148.93 L112.25,149.53 L112.60,150.12 L112.94,150.72 L113.28,151.31 L113.62,151.90 L113.96,152.48 L114.31,153.06 L114.65,153.64 L114.99,154.21 L115.33,154.78 L115.68,155.35 L116.02,155.91 L116.36,156.47 L116.70,157.02 L117.05,157.56 L117.39,158.11 L117.73,158.64 L118.07,159.17 L118.42,159.70 L118.76,160.22 L119.10,160.74 L119.44,161.25 L119.78,161.75 L120.13,162.25 L120.47,162.74 L120.81,163.23 L121.15,163.71 L121.50,164.19 L121.84,164.66 L122.18,165.12 L122.52,165.58 L122.87,166.03 L123.21,166.47 L123.55,166.91 L123.89,167.34 L124.24,167.77 L124.58,168.19 L124.92,168.60 L125.26,169.01 L125.61,169.41 L125.95,169.80 L126.29,170.19 L126.63,170.57 L126.97,170.95 L127.32,171.31 L127.66,171.67 L128.00,172.03 L128.34,172.38 L128.69,172.72 L129.03,173.05 L129.37,173.38 L129.71,173.70 L130.06,174.02 L130.40,174.33 L130.74,174.63 L131.08,174.93 L131.43,175.22 L131.77,175.50 L132.11,175.78 L132.45,176.05 L132.79,176.32 L133.14,176.58 L133.48,176.84 L133.82,177.09 L134.16,177.33 L134.51,177.57 L134.85,177.80 L135.19,178.03 L135.53,178.26 L135.88,178.48 L136.22,178.69 L136.56,178.90 L136.90,179.10 L137.25,179.30 L137.59,179.50 L137.93,179.69 L138.27,179.88 L138.61,180.06 L138.96,180.23 L139.30,180.41 L139.64,180.58 L139.98,180.74 L140.33,180.90 L140.67,181.06 L141.01,181.21 L141.35,181.36 L141.70,181.50 L142.04,181.64 L142.38,181.78 L142.72,181.91 L143.07,182.04 L143.41,182.17 L143.75,182.29 L144.09,182.41 L144.43,182.53 L144.78,182.64 L145.12,182.75 L145.46,182.85 L145.80,182.95 L146.15,183.05 L146.49,183.15 L146.83,183.24 L147.17,183.33 L147.52,183.42 L147.86,183.50 L148.20,183.58 L148.54,183.66 L148.89,183.73 L149.23,183.80 L149.57,183.87 L149.91,183.94 L150.25,184.00 L150.60,184.06 L150.94,184.12 L151.28,184.18 L151.62,184.23 L151.97,184.28 L152.31,184.33 L152.65,184.38 L152.99,184.42 L153.34,184.46 L153.68,184.50 L154.02,184.54 L154.36,184.58 L154.71,184.61 L155.05,184.65 L155.39,184.68 L155.73,184.71 L156.07,184.74 L156.42,184.76 L156.76,184.79 L157.10,184.81 L157.44,184.84 L157.79,184.86 L158.13,184.88 L158.47,184.90 L158.81,184.92 L159.16,184.94 L159.50,184.95 L159.84,184.97 L160.18,184.98 L160.53,185.00 L160.87,185.01 L161.21,185.03 L161.55,185.04 L161.89,185.05 L162.24,185.06 L162.58,185.07 L162.92,185.08 L163.26,185.09 L163.61,185.10 L163.95,185.11 L164.29,185.12 L164.63,185.13 L164.98,185.14 L165.32,185.15 L165.66,185.15 L166.00,185.16 L166.35,185.17 L166.69,185.18 L167.03,185.19 L167.37,185.19 L167.71,185.20 L168.06,185.21 L168.40,185.22 L168.74,185.23 L169.08,185.24 L169.43,185.24 L169.77,185.25 L170.11,185.26 L170.45,185.27 L170.80,185.28 L171.14,185.29 L171.48,185.30 L171.82,185.31 L172.17,185.32 L172.51,185.34 L172.85,185.35 L173.19,185.36 L173.53,185.37 L173.88,185.39 L174.22,185.40 L174.56,185.42 L174.90,185.43 L175.25,185.45 L175.59,185.46 L175.93,185.48 L176.27,185.50 L176.62,185.52 L176.96,185.54 L177.30,185.56 L177.64,185.58 L177.99,185.60 L178.33,185.62 L178.67,185.64 L179.01,185.67 L179.35,185.69 L179.70,185.72 L180.04,185.74 L180.38,185.77 L180.72,185.80 L181.07,185.82 L181.41,185.85 L181.75,185.88 L182.09,185.92 L182.44,185.95 L182.78,185.98 L183.12,186.02 L183.46,186.05 L183.81,186.09 L184.15,186.12 L184.49,186.16 L184.83,186.20 L185.17,186.24 L185.52,186.28 L185.86,186.32 L186.20,186.37 L186.54,186.41 L186.89,186.46 L187.23,186.50 L187.57,186.55 L187.91,186.60 L188.26,186.65 L188.60,186.70 L188.94,186.75 L189.28,186.80 L189.63,186.86 L189.97,186.91 L190.31,186.97 L190.65,187.02 L190.99,187.08 L191.34,187.14 L191.68,187.20 L192.02,187.26 L192.36,187.32 L192.71,187.38 L193.05,187.44 L193.39,187.50 L193.73,187.57 L194.08,187.63 L194.42,187.70 L194.76,187.76 L195.10,187.83 L195.45,187.89 L195.79,187.96 L196.13,188.03 L196.47,188.10 L196.82,188.17 L197.16,188.24 L197.50,188.31 L197.84,188.38 L198.18,188.45 L198.53,188.52 L198.87,188.59 L199.21,188.67 L199.55,188.74 L199.90,188.81 L200.24,188.89 L200.58,188.96 L200.92,189.04 L201.27,189.11 L201.61,189.19 L201.95,189.26 L202.29,189.34 L202.64,189.42 L202.98,189.49 L203.32,189.57 L203.66,189.65 L204.00,189.73 L204.35,189.81 L204.69,189.88 L205.03,189.96 L205.37,190.04 L205.72,190.12 L206.06,190.20 L206.40,190.28 L206.74,190.36 L207.09,190.44 L207.43,190.52 L207.77,190.60 L208.11,190.68 L208.46,190.76 L208.80,190.84 L209.14,190.93 L209.48,191.01 L209.82,191.09 L210.17,191.17 L210.51,191.25 L210.85,191.33 L211.19,191.42 L211.54,191.50 L211.88,191.58 L212.22,191.66 L212.56,191.74 L212.91,191.82 L213.25,191.91 L213.59,191.99 L213.93,192.07 L214.28,192.15 L214.62,192.24 L214.96,192.32 L215.30,192.40 L215.64,192.48 L215.99,192.56 L216.33,192.65 L216.67,192.73 L217.01,192.81 L217.36,192.89 L217.70,192.97 L218.04,193.06 L218.38,193.14 L218.73,193.22 L219.07,193.30 L219.41,193.38 L219.75,193.46 L220.10,193.54 L220.44,193.63 L220.78,193.71 L221.12,193.79 L221.46,193.87 L221.81,193.95 L222.15,194.03 L222.49,194.11 L222.83,194.19 L223.18,194.27 L223.52,194.35 L223.86,194.43 L224.20,194.51 L224.55,194.59 L224.89,194.67 L225.23,194.75 L225.57,194.83 L225.92,194.90 L226.26,194.98 L226.60,195.06" stroke="#2000ff" stroke-width="1.5" fill="none" stroke-dasharray="5.2 5.15" stroke-dashoffset="-8.63"/>
<path d="M226.60,195.06 L227.07,195.17 L227.53,195.27 L228.00,195.38 L228.47,195.49 L228.94,195.59 L229.40,195.69 L229.87,195.80 L230.34,195.90 L230.81,196.00 L231.27,196.11 L231.74,196.21 L232.21,196.31 L232.68,196.41 L233.14,196.51 L233.61,196.61 L234.08,196.71 L234.55,196.81 L235.01,196.91 L235.48,197.01 L235.95,197.10 L236.42,197.20 L236.88,197.30 L237.35,197.39 L237.82,197.49 L238.29,197.58 L238.75,197.67 L239.22,197.77 L239.69,197.86 L240.16,197.95 L240.62,198.04 L241.09,198.13 L241.56,198.22 L242.02,198.31 L242.49,198.40 L242.96,198.49 L243.43,198.58 L243.89,198.66 L244.36,198.75 L244.83,198.83 L245.30,198.92 L245.76,199.00 L246.23,199.09 L246.70,199.17 L247.17,199.25 L247.63,199.34 L248.10,199.42 L248.57,199.50 L249.04,199.58 L249.50,199.66 L249.97,199.74 L250.44,199.82 L250.91,199.90 L251.37,199.98 L251.84,200.05 L252.31,200.13 L252.78,200.21 L253.24,200.29 L253.71,200.36 L254.18,200.44 L254.65,200.51 L255.11,200.59 L255.58,200.66 L256.05,200.73 L256.51,200.81 L256.98,200.88 L257.45,200.95 L257.92,201.02 L258.38,201.10 L258.85,201.17 L259.32,201.24 L259.79,201.31 L260.25,201.38 L260.72,201.45 L261.19,201.52 L261.66,201.59 L262.12,201.65 L262.59,201.72 L263.06,201.79 L263.53,201.86 L263.99,201.92 L264.46,201.99 L264.93,202.06 L265.40,202.12 L265.86,202.19 L266.33,202.25 L266.80,202.32 L267.27,202.38 L267.73,202.45 L268.20,202.51 L268.67,202.58 L269.14,202.64 L269.60,202.70 L270.07,202.76 L270.54,202.83 L271.00,202.89 L271.47,202.95 L271.94,203.01 L272.41,203.07 L272.87,203.13 L273.34,203.20 L273.81,203.26 L274.28,203.32 L274.74,203.38 L275.21,203.43 L275.68,203.49 L276.15,203.55 L276.61,203.61 L277.08,203.67 L277.55,203.73 L278.02,203.79 L278.48,203.84 L278.95,203.90 L279.42,203.96 L279.89,204.02 L280.35,204.07 L280.82,204.13 L281.29,204.19 L281.76,204.24 L282.22,204.30 L282.69,204.35 L283.16,204.41 L283.63,204.46 L284.09,204.52 L284.56,204.57 L285.03,204.63 L285.49,204.68 L285.96,204.74 L286.43,204.79 L286.90,204.84 L287.36,204.90 L287.83,204.95 L288.30,205.00 L288.77,205.06 L289.23,205.11 L289.70,205.16 L290.17,205.21 L290.64,205.27 L291.10,205.32 L291.57,205.37 L292.04,205.42 L292.51,205.47 L292.97,205.52 L293.44,205.57 L293.91,205.63 L294.38,205.68 L294.84,205.73 L295.31,205.78 L295.78,205.83 L296.25,205.88 L296.71,205.93 L297.18,205.98 L297.65,206.03 L298.12,206.08 L298.58,206.13 L299.05,206.17 L299.52,206.22 L299.98,206.27 L300.45,206.32 L300.92,206.37 L301.39,206.42 L301.85,206.47 L302.32,206.52 L302.79,206.56 L303.26,206.61 L303.72,206.66 L304.19,206.71 L304.66,206.75 L305.13,206.80 L305.59,206.85 L306.06,206.90 L306.53,206.94 L307.00,206.99 L307.46,207.04 L307.93,207.08 L308.40,207.13 L308.87,207.18 L309.33,207.22 L309.80,207.27 L310.27,207.32 L310.74,207.36 L311.20,207.41 L311.67,207.45 L312.14,207.50 L312.61,207.55 L313.07,207.59 L313.54,207.64 L314.01,207.68 L314.47,207.73 L314.94,207.77 L315.41,207.82 L315.88,207.86 L316.34,207.91 L316.81,207.95 L317.28,208.00 L317.75,208.04 L318.21,208.09 L318.68,208.13 L319.15,208.18 L319.62,208.22 L320.08,208.26 L320.55,208.31 L321.02,208.35 L321.49,208.40 L321.95,208.44 L322.42,208.48 L322.89,208.53 L323.36,208.57 L323.82,208.62 L324.29,208.66 L324.76,208.70 L325.23,208.75 L325.69,208.79 L326.16,208.83 L326.63,208.88 L327.09,208.92 L327.56,208.96 L328.03,209.01 L328.50,209.05 L328.96,209.09 L329.43,209.13 L329.90,209.18 L330.37,209.22 L330.83,209.26 L331.30,209.31 L331.77,209.35 L332.24,209.39 L332.70,209.43 L333.17,209.48 L333.64,209.52 L334.11,209.56 L334.57,209.60 L335.04,209.65 L335.51,209.69 L335.98,209.73 L336.44,209.77 L336.91,209.81 L337.38,209.86 L337.85,209.90 L338.31,209.94 L338.78,209.98 L339.25,210.02 L339.72,210.07 L340.18,210.11 L340.65,210.15 L341.12,210.19 L341.58,210.23 L342.05,210.27 L342.52,210.32 L342.99,210.36 L343.45,210.40 L343.92,210.44 L344.39,210.48 L344.86,210.52 L345.32,210.57 L345.79,210.61 L346.26,210.65 L346.73,210.69 L347.19,210.73 L347.66,210.77 L348.13,210.82 L348.60,210.86 L349.06,210.90 L349.53,210.94 L350.00,210.98 L350.47,211.03 L350.93,211.07 L351.40,211.11 L351.87,211.15 L352.34,211.20 L352.80,211.24 L353.27,211.28 L353.74,211.32 L354.21,211.37 L354.67,211.41 L355.14,211.45 L355.61,211.50 L356.07,211.54 L356.54,211.58 L357.01,211.63 L357.48,211.67 L357.94,211.72 L358.41,211.76 L358.88,211.81 L359.35,211.85 L359.81,211.90 L360.28,211.94 L360.75,211.99 L361.22,212.03 L361.68,212.08 L362.15,212.13 L362.62,212.17 L363.09,212.22 L363.55,212.27 L364.02,212.31 L364.49,212.36 L364.96,212.41 L365.42,212.46 L365.89,212.50 L366.36,212.55 L366.83,212.60 L367.29,212.65 L367.76,212.70 L368.23,212.75 L368.70,212.80 L369.16,212.85 L369.63,212.90 L370.10,212.95 L370.56,213.00 L371.03,213.06 L371.50,213.11 L371.97,213.16 L372.43,213.21 L372.90,213.27 L373.37,213.32 L373.84,213.37 L374.30,213.43 L374.77,213.48 L375.24,213.54 L375.71,213.59 L376.17,213.65 L376.64,213.70 L377.11,213.76 L377.58,213.82 L378.04,213.87 L378.51,213.93 L378.98,213.99 L379.45,214.05 L379.91,214.11 L380.38,214.17 L380.85,214.23 L381.32,214.29 L381.78,214.35 L382.25,214.41 L382.72,214.47 L383.19,214.53 L383.65,214.59 L384.12,214.66 L384.59,214.72 L385.05,214.78 L385.52,214.85 L385.99,214.91 L386.46,214.98 L386.92,215.04 L387.39,215.11 L387.86,215.17 L388.33,215.24 L388.79,215.31 L389.26,215.37 L389.73,215.44 L390.20,215.51 L390.66,215.58 L391.13,215.65 L391.60,215.72 L392.07,215.79 L392.53,215.86 L393.00,215.93 L393.47,216.00 L393.94,216.08 L394.40,216.15 L394.87,216.22 L395.34,216.30 L395.81,216.37 L396.27,216.45 L396.74,216.52 L397.21,216.60 L397.68,216.67 L398.14,216.75 L398.61,216.83 L399.08,216.91 L399.54,216.99 L400.01,217.06 L400.48,217.14 L400.95,217.22 L401.41,217.31 L401.88,217.39 L402.35,217.47 L402.82,217.55 L403.28,217.63 L403.75,217.72 L404.22,217.80 L404.69,217.89 L405.15,217.97 L405.62,218.06 L406.09,218.14 L406.56,218.23 L407.02,218.32 L407.49,218.40 L407.96,218.49 L408.43,218.58 L408.89,218.67 L409.36,218.76 L409.83,218.85 L410.30,218.94 L410.76,219.04 L411.23,219.13 L411.70,219.22 L412.17,219.31 L412.63,219.41 L413.10,219.50" stroke="#2000ff" stroke-width="1.5" fill="none" stroke-dasharray="5.25 5.12" stroke-dashoffset="-3.38"/>
<path d="M405.20,217.98 L405.62,218.06 L406.03,218.13 L406.45,218.21 L406.86,218.29 L407.28,218.36 L407.69,218.44 L408.11,218.52 L408.53,218.60 L408.94,218.68 L409.36,218.76 L409.77,218.84 L410.19,218.92 L410.61,219.00 L411.02,219.09 L411.44,219.17 L411.85,219.25 L412.27,219.34 L412.68,219.42 L413.10,219.50" stroke="#2000ff" stroke-width="1.5" fill="none"/>
<path d="M67.5,103.05H417.75" stroke="#ff0000" stroke-width="1.6" fill="none"/>
</g>
<path d="M67.50,248.65v-5.0M67.50,0.4v5.0M81.51,248.65v-2.7M81.51,0.4v2.7M95.52,248.65v-2.7M95.52,0.4v2.7M109.53,248.65v-2.7M109.53,0.4v2.7M123.54,248.65v-5.0M123.54,0.4v5.0M137.55,248.65v-2.7M137.55,0.4v2.7M151.56,248.65v-2.7M151.56,0.4v2.7M165.57,248.65v-2.7M165.57,0.4v2.7M179.58,248.65v-5.0M179.58,0.4v5.0M193.59,248.65v-2.7M193.59,0.4v2.7M207.60,248.65v-2.7M207.60,0.4v2.7M221.61,248.65v-2.7M221.61,0.4v2.7M235.62,248.65v-5.0M235.62,0.4v5.0M249.63,248.65v-2.7M249.63,0.4v2.7M263.64,248.65v-2.7M263.64,0.4v2.7M277.65,248.65v-2.7M277.65,0.4v2.7M291.66,248.65v-5.0M291.66,0.4v5.0M305.67,248.65v-2.7M305.67,0.4v2.7M319.68,248.65v-2.7M319.68,0.4v2.7M333.69,248.65v-2.7M333.69,0.4v2.7M347.70,248.65v-5.0M347.70,0.4v5.0M361.71,248.65v-2.7M361.71,0.4v2.7M375.72,248.65v-2.7M375.72,0.4v2.7M389.73,248.65v-2.7M389.73,0.4v2.7M403.74,248.65v-5.0M403.74,0.4v5.0M417.75,248.65v-2.7M417.75,0.4v2.7M67.5,237.47h3.5M417.75,237.47h-3.5M67.5,228.09h3.5M417.75,228.09h-3.5M67.5,220.16h3.5M417.75,220.16h-3.5M67.5,213.28h3.5M417.75,213.28h-3.5M67.5,207.22h3.5M417.75,207.22h-3.5M67.5,201.80h6.9M417.75,201.80h-6.9M67.5,166.13h3.5M417.75,166.13h-3.5M67.5,145.26h3.5M417.75,145.26h-3.5M67.5,130.46h3.5M417.75,130.46h-3.5M67.5,118.97h3.5M417.75,118.97h-3.5M67.5,109.59h3.5M417.75,109.59h-3.5M67.5,101.66h3.5M417.75,101.66h-3.5M67.5,94.78h3.5M417.75,94.78h-3.5M67.5,88.72h3.5M417.75,88.72h-3.5M67.5,83.30h6.9M417.75,83.30h-6.9M67.5,47.63h3.5M417.75,47.63h-3.5M67.5,26.76h3.5M417.75,26.76h-3.5M67.5,11.96h3.5M417.75,11.96h-3.5" stroke="#000" stroke-width="1.6" fill="none"/>
<path d="M417.75,0.4H67.5V248.65H418.5" stroke="#000" stroke-width="1.9" fill="none" stroke-linejoin="miter"/>
<path d="M417.75,-0.6V249.6" stroke="#000" stroke-width="1.5" fill="none"/>
<text x="67.20" y="270.4" font-size="14.7" text-anchor="middle" textLength="22.6" lengthAdjust="spacingAndGlyphs" stroke="#000" stroke-width="0.2">0.0</text>
<text x="123.24" y="270.4" font-size="14.7" text-anchor="middle" textLength="22.6" lengthAdjust="spacingAndGlyphs" stroke="#000" stroke-width="0.2">0.2</text>
<text x="179.28" y="270.4" font-size="14.7" text-anchor="middle" textLength="22.6" lengthAdjust="spacingAndGlyphs" stroke="#000" stroke-width="0.2">0.4</text>
<text x="235.32" y="270.4" font-size="14.7" text-anchor="middle" textLength="22.6" lengthAdjust="spacingAndGlyphs" stroke="#000" stroke-width="0.2">0.6</text>
<text x="291.36" y="270.4" font-size="14.7" text-anchor="middle" textLength="22.6" lengthAdjust="spacingAndGlyphs" stroke="#000" stroke-width="0.2">0.8</text>
<text x="347.40" y="270.4" font-size="14.7" text-anchor="middle" textLength="22.6" lengthAdjust="spacingAndGlyphs" stroke="#000" stroke-width="0.2">1.0</text>
<text x="403.44" y="270.4" font-size="14.7" text-anchor="middle" textLength="22.6" lengthAdjust="spacingAndGlyphs" stroke="#000" stroke-width="0.2">1.2</text>
<text x="62.9" y="89.2" font-size="14.5" text-anchor="end" textLength="35" lengthAdjust="spacingAndGlyphs" stroke="#000" stroke-width="0.2">1000</text>
<text x="62.9" y="207.7" font-size="14.5" text-anchor="end" textLength="26.2" lengthAdjust="spacingAndGlyphs" stroke="#000" stroke-width="0.2">100</text>
<text y="287.6" font-size="13.8" stroke="#000" stroke-width="0.2"><tspan x="196.5" textLength="45.9" lengthAdjust="spacing">Radius</tspan><tspan> </tspan><tspan x="250.7" textLength="37.2" lengthAdjust="spacingAndGlyphs">(kpc)</tspan></text>
<g transform="translate(14.3,187.6) rotate(-90)">
<text transform="translate(-0.64,0.54) scale(1.344,1.605)" font-size="10.0" fill="#000" stroke="#000" stroke-width="0.305">ω</text>
<text transform="translate(17.66,0.18) scale(1.999,1.750)" font-size="10.0" fill="#000" stroke="#000" stroke-width="0.160">(</text>
<text transform="translate(24.24,0.00) scale(1.428,1.430)" font-size="10.0" fill="#000" stroke="#000" stroke-width="0.210">k</text>
<text transform="translate(31.71,0.00) scale(1.720,1.430)" font-size="10.0" fill="#000" stroke="#000" stroke-width="0.190">m</text>
<text transform="translate(53.64,0.00) scale(1.307,1.430)" font-size="10.0" fill="#000" stroke="#000" stroke-width="0.219">s</text>
<text transform="translate(61.61,-3.97) scale(0.988,1.964)" font-size="10.0" fill="#000" stroke="#000" stroke-width="0.203">−</text>
<text transform="translate(68.84,-7.20) scale(0.603,0.959)" font-size="10.0" fill="#000" stroke="#000" stroke-width="0.640">1</text>
<text transform="translate(80.90,0.00) scale(1.336,1.430)" font-size="10.0" fill="#000" stroke="#000" stroke-width="0.217">k</text>
<text transform="translate(88.54,0.00) scale(1.490,1.430)" font-size="10.0" fill="#000" stroke="#000" stroke-width="0.205">p</text>
<text transform="translate(97.48,0.00) scale(1.461,1.430)" font-size="10.0" fill="#000" stroke="#000" stroke-width="0.208">c</text>
<text transform="translate(105.88,-3.97) scale(1.256,1.964)" font-size="10.0" fill="#000" stroke="#000" stroke-width="0.186">−</text>
<text transform="translate(113.72,-7.20) scale(0.626,0.959)" font-size="10.0" fill="#000" stroke="#000" stroke-width="0.631">1</text>
<text transform="translate(118.89,0.18) scale(1.924,1.750)" font-size="10.0" fill="#000" stroke="#000" stroke-width="0.163">)</text>
</g>
<path d="M331,24.85H396.2" stroke="#000" stroke-width="1.6" fill="none"/>
<path d="M331,38.6H396.2" stroke="#00ff00" stroke-width="1.6" stroke-dasharray="5.2 5.1" fill="none"/>
<path d="M331,52.25H396.2" stroke="#2000ff" stroke-width="1.6" stroke-dasharray="5.2 5.1" fill="none"/>
<path d="M331,66.0H396.2" stroke="#ff0000" stroke-width="1.6" fill="none"/>
<text transform="translate(313.07,29.20) scale(1.238,1.289)" font-size="10.0" fill="#000" stroke="#000" stroke-width="0.435">Ω</text>
<text transform="translate(279.67,42.40) scale(1.238,1.289)" font-size="10.0" fill="#000" stroke="#000" stroke-width="0.435">Ω</text>
<text transform="translate(289.54,43.13) scale(1.564,1.512)" font-size="10.0" fill="#000" stroke="#000" stroke-width="0.195">+</text>
<text transform="translate(298.16,42.40) scale(1.428,1.249)" font-size="10.0" fill="#000" font-style="italic" stroke="#000" stroke-width="0.411">κ</text>
<text transform="translate(306.1,44.25) skewX(-16.8)" font-size="17.5" stroke="#000" stroke-width="0.15">/</text>
<text transform="translate(314.22,42.40) scale(1.361,1.289)" font-size="10.0" fill="#000" stroke="#000" stroke-width="0.415">2</text>
<text transform="translate(279.67,56.20) scale(1.238,1.289)" font-size="10.0" fill="#000" stroke="#000" stroke-width="0.435">Ω</text>
<text transform="translate(289.42,57.91) scale(1.585,1.824)" font-size="10.0" fill="#000" stroke="#000" stroke-width="0.194">−</text>
<text transform="translate(298.16,56.20) scale(1.428,1.249)" font-size="10.0" fill="#000" font-style="italic" stroke="#000" stroke-width="0.411">κ</text>
<text transform="translate(306.1,58.05) skewX(-16.8)" font-size="17.5" stroke="#000" stroke-width="0.15">/</text>
<text transform="translate(314.22,56.20) scale(1.361,1.289)" font-size="10.0" fill="#000" stroke="#000" stroke-width="0.415">2</text>
<text transform="translate(308.89,69.50) scale(1.208,1.260)" font-size="10.0" fill="#000" stroke="#000" stroke-width="0.446">Ω</text>
<text transform="translate(317.27,72.96) scale(0.978,0.886)" font-size="10.0" fill="#000" stroke="#000" stroke-width="0.590">p</text>
</svg></body></html>
